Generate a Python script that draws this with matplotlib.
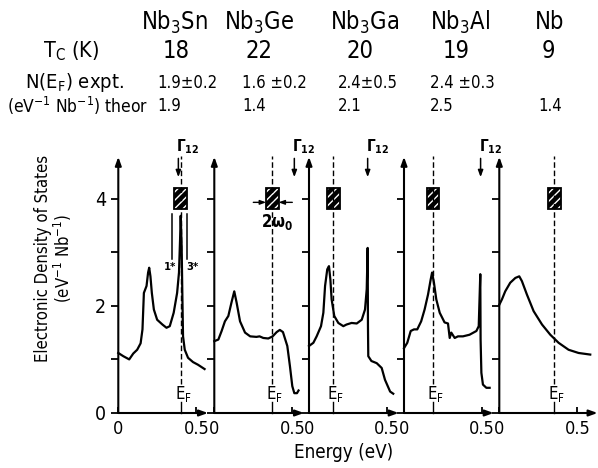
import matplotlib
matplotlib.use('Agg')
import matplotlib.pyplot as plt
from matplotlib.patches import Rectangle

plt.rcParams['font.family'] = ['DejaVu Sans']
plt.rcParams['font.stretch'] = 'condensed'
plt.rcParams['mathtext.default'] = 'regular'

# header table
compounds = ['Nb$_3$Sn', 'Nb$_3$Ge', 'Nb$_3$Ga', 'Nb$_3$Al', 'Nb']
tc = ['18', '22', '20', '19', '9']
n_expt = ['1.9±0.2', '1.6 ±0.2', '2.4±0.5', '2.4 ±0.3', '']
n_theor = ['1.9', '1.4', '2.1', '2.5', '1.4']

# Fermi level, Gamma_12 position (eV) for each panel
ef = [0.40, 0.372, 0.156, 0.186, 0.353]
gamma12 = [0.385, 0.513, 0.376, 0.491, None]
box_level = 4.0

# density of states curves (eV, states/eV/Nb)
e_sn = [0.000, 0.032, 0.070, 0.096, 0.121, 0.143, 0.155, 0.164, 0.181, 0.191, 0.198, 0.206,
        0.215, 0.228, 0.249, 0.283, 0.309, 0.330, 0.355, 0.377, 0.389, 0.396, 0.400, 0.406,
        0.411, 0.415, 0.426, 0.447, 0.479, 0.511, 0.553]
dos_sn = [1.12, 1.06, 1.00, 1.11, 1.18, 1.30, 1.56, 2.24, 2.37, 2.62, 2.71, 2.55,
          2.24, 1.93, 1.74, 1.65, 1.59, 1.62, 1.87, 2.24, 2.62, 3.24, 3.68, 3.12,
          2.12, 1.43, 1.18, 1.03, 0.95, 0.90, 0.82]

e_ge = [0.000, 0.026, 0.047, 0.068, 0.090, 0.110, 0.128, 0.143, 0.165, 0.197, 0.230, 0.270,
        0.290, 0.314, 0.346, 0.374, 0.400, 0.420, 0.440, 0.468, 0.485, 0.500, 0.513, 0.530, 0.540]
dos_ge = [1.34, 1.37, 1.53, 1.71, 1.81, 2.06, 2.27, 2.06, 1.71, 1.50, 1.43, 1.42,
          1.43, 1.40, 1.39, 1.43, 1.51, 1.55, 1.51, 1.25, 0.87, 0.50, 0.37, 0.37, 0.42]

e_ga = [0.000, 0.028, 0.049, 0.077, 0.092, 0.103, 0.117, 0.128, 0.137, 0.145, 0.162, 0.188,
        0.220, 0.240, 0.273, 0.306, 0.338, 0.359, 0.370, 0.376, 0.378, 0.380, 0.400, 0.434,
        0.466, 0.487, 0.520, 0.540]
dos_ga = [1.25, 1.31, 1.43, 1.62, 1.87, 2.37, 2.68, 2.74, 2.49, 2.12, 1.81, 1.68,
          1.62, 1.65, 1.68, 1.67, 1.74, 1.93, 2.31, 3.08, 1.62, 1.06, 0.97, 0.93,
          0.84, 0.62, 0.40, 0.36]

e_al = [0.000, 0.021, 0.043, 0.064, 0.085, 0.110, 0.132, 0.154, 0.171, 0.180, 0.192, 0.207,
        0.229, 0.260, 0.282, 0.293, 0.303, 0.325, 0.346, 0.378, 0.420, 0.464, 0.479, 0.489,
        0.491, 0.496, 0.506, 0.528, 0.549]
dos_al = [1.21, 1.31, 1.53, 1.56, 1.56, 1.71, 1.93, 2.21, 2.49, 2.62, 2.43, 2.12,
          1.87, 1.69, 1.67, 1.40, 1.50, 1.40, 1.43, 1.43, 1.46, 1.53, 1.62, 2.59,
          1.37, 0.75, 0.53, 0.47, 0.47]

e_nb = [0.000, 0.017, 0.038, 0.070, 0.103, 0.128, 0.145, 0.177, 0.220, 0.274, 0.327, 0.380,
        0.444, 0.508, 0.583]
dos_nb = [2.02, 2.12, 2.27, 2.43, 2.52, 2.55, 2.46, 2.21, 1.90, 1.65, 1.46, 1.31,
          1.18, 1.12, 1.09]

energies = [e_sn, e_ge, e_ga, e_al, e_nb]
dos = [dos_sn, dos_ge, dos_ga, dos_al, dos_nb]

W, H = 598, 468
px_ev = 156.0
px_unit = 53.6
y0 = 413
lefts = [118.3, 214.3, 309, 404, 499.3]

fig = plt.figure(figsize=(W / 100, H / 100), dpi=100)

arrow = dict(arrowstyle='-|>,head_length=0.5,head_width=0.18', lw=1.5, color='black',
             shrinkA=0, shrinkB=0)

for i, left in enumerate(lefts):
    ax = fig.add_axes([left / W, (H - y0) / H, 0.64 * px_ev / W, 5.2 * px_unit / H])
    ax.set_xlim(0, 0.64)
    ax.set_ylim(0, 5.2)
    ax.patch.set_visible(False)
    for s in ax.spines.values():
        s.set_visible(False)

    # axes with arrow heads
    ax.annotate('', xy=(0, 4.78), xytext=(0, 0), arrowprops=arrow, annotation_clip=False)
    ax.annotate('', xy=(0.575 if i < 4 else 0.63, 0), xytext=(0, 0), arrowprops=arrow,
                annotation_clip=False)

    ax.set_yticks([0, 1, 2, 3, 4])
    ax.tick_params(axis='y', direction='out', length=5, width=1.3, labelsize=14, pad=4)
    if i == 0:
        ax.set_yticklabels(['0', '', '2', '', '4'])
    else:
        ax.tick_params(axis='y', labelleft=False)
    ax.set_xticks([0, 0.5], ['0', '0.5'])
    ax.tick_params(axis='x', direction='in', length=4, width=1.3, labelsize=13, pad=5)

    ax.plot(energies[i], dos[i], color='black', lw=1.6, clip_on=False)

    # Fermi level
    e = ef[i]
    ax.plot([e, e], [0.55, 4.8], color='black', lw=1.0, ls=(0, (4, 2)), clip_on=False)
    ax.plot([e, e], [0, 0.2], color='black', lw=1.0, clip_on=False)
    ax.text(e + 0.015, 0.36, 'E$_F$', ha='center', va='center', fontsize=12)

    # hatched box at E_F
    bw, bh = 0.08, 0.38
    ax.add_patch(Rectangle((e - bw / 2, box_level - bh / 2), bw, bh, facecolor='black',
                           edgecolor='white', hatch='////', lw=0, clip_on=False))
    ax.add_patch(Rectangle((e - bw / 2, box_level - bh / 2), bw, bh, fill=False,
                           edgecolor='black', lw=1.3, clip_on=False))

    g = gamma12[i]
    if g is not None:
        ax.annotate('', xy=(g, 4.4), xytext=(g, 4.75), arrowprops=dict(
            arrowstyle='-|>,head_length=0.4,head_width=0.15', lw=1.1, color='black',
            shrinkA=0, shrinkB=0), annotation_clip=False)
        ax.text(g - 0.012, 4.96, '$\\Gamma_{12}$', ha='left', va='center', fontsize=11,
                fontweight='bold')

    if i == 0:
        for xb, lab, xl in [(0.347, '1*', 0.33), (0.44, '3*', 0.478)]:
            ax.plot([xb, xb], [2.87, 3.71], color='black', lw=1.1, clip_on=False)
            ax.text(xl, 2.72, lab, ha='center', va='center', fontsize=8, fontweight='bold')
    if i == 1:
        bl, br = e - bw / 2, e + bw / 2
        small = dict(arrowstyle='-|>,head_length=0.35,head_width=0.13', lw=1.0,
                     color='black', shrinkA=0, shrinkB=0)
        ax.annotate('', xy=(bl, 3.93), xytext=(0.25, 3.93), arrowprops=small)
        ax.annotate('', xy=(br, 3.93), xytext=(0.50, 3.93), arrowprops=small)
        ax.text(0.40, 3.57, '2ω$_0$', ha='center', va='center', fontsize=12,
                fontweight='bold')


def ftext(x, y, s, **kw):
    fig.text(x / W, 1 - y / H, s, **kw)


for cx, s in zip([174, 259, 365, 460, 550], compounds):
    ftext(cx, 22, s, ha='center', va='center', fontsize=17)
for cx, s in zip([176, 259, 360, 456, 548], tc):
    ftext(cx, 51, s, ha='center', va='center', fontsize=17)
ftext(71, 51, 'T$_C$ (K)', ha='center', va='center', fontsize=15.5)
ftext(25, 83, 'N(E$_F$) expt.', ha='left', va='center', fontsize=14.5)
ftext(7, 106, '(eV$^{-1}$ Nb$^{-1}$) theor', ha='left', va='center', fontsize=12.5)
for lx, s in zip([157, 242, 338, 430], n_expt):
    ftext(lx, 83, s, ha='left', va='center', fontsize=12)
for lx, s in zip([157, 242, 338, 430, 538], n_theor):
    ftext(lx, 106, s, ha='left', va='center', fontsize=12)

ftext(43, 258, 'Electronic Density of States', rotation=90, ha='center', va='center',
      fontsize=12)
ftext(63, 258, '(eV$^{-1}$ Nb$^{-1}$)', rotation=90, ha='center', va='center', fontsize=12)
ftext(344, 453, 'Energy (eV)', ha='center', va='center', fontsize=13.5)

fig.savefig('out.png', dpi=100)
